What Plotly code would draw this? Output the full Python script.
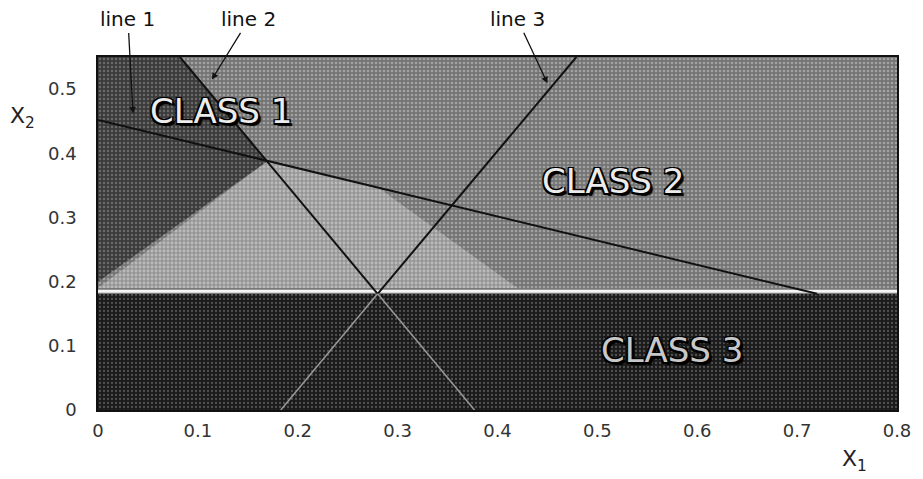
import plotly.graph_objects as go

# ---- data ----
x_ticks = [0, 0.1, 0.2, 0.3, 0.4, 0.5, 0.6, 0.7, 0.8]
x_tick_labels = ["0", "0.1", "0.2", "0.3", "0.4", "0.5", "0.6", "0.7", "0.8"]
y_ticks = [0, 0.1, 0.2, 0.3, 0.4, 0.5]
y_tick_labels = ["0", "0.1", "0.2", "0.3", "0.4", "0.5"]

class3_top = 0.181

line1_x = [0.0, 0.72]
line1_y = [0.452, 0.181]
line2_x = [0.082, 0.28, 0.377]
line2_y = [0.55, 0.181, 0.0]
line3_x = [0.183, 0.28, 0.479]
line3_y = [0.0, 0.181, 0.55]

# shaded regions (polygons)
class1_dark_x = [0.0, 0.0, 0.082, 0.17, 0.0]
class1_dark_y = [0.20, 0.55, 0.55, 0.388, 0.20]
light_band_x = [0.0, 0.17, 0.28, 0.42, 0.0]
light_band_y = [0.19, 0.388, 0.347, 0.19, 0.19]
class3_x = [0.0, 0.8, 0.8, 0.0, 0.0]
class3_y = [0.0, 0.0, class3_top, class3_top, 0.0]
class2_x = [0.0, 0.8, 0.8, 0.0, 0.0]
class2_y = [class3_top, class3_top, 0.55, 0.55, class3_top]

class_labels = ["CLASS 1", "CLASS 2", "CLASS 3"]
class_label_x = [0.123, 0.516, 0.575]
class_label_y = [0.466, 0.357, 0.093]

line_labels = ["line 1", "line 2", "line 3"]
line_tip_x = [0.035, 0.114, 0.450]
line_tip_y = [0.462, 0.515, 0.509]
line_label_ax = [-5, 37, -30]
line_label_ay = [-94, -60, -64]

fig = go.Figure()

def region(xs, ys, bg, fg, sol, size=4):
    fig.add_trace(go.Scatter(
        x=xs, y=ys, mode="lines", fill="toself", line=dict(width=0),
        fillcolor=bg,
        fillpattern=dict(shape=".", bgcolor=bg, fgcolor=fg, size=size, solidity=sol),
        hoverinfo="skip", showlegend=False))

region(class2_x, class2_y, "#747474", "#d0d0d0", 0.35)
region(light_band_x, light_band_y, "#969696", "#e0e0e0", 0.4)
region(class1_dark_x, class1_dark_y, "#3a3a3a", "#9a9a9a", 0.3)
region(class3_x, class3_y, "#1a1a1a", "#8a8a8a", 0.25)

# white strip on top of class 3 band
fig.add_trace(go.Scatter(x=[0, 0.8], y=[class3_top + 0.004, class3_top + 0.004], mode="lines",
                         line=dict(color="#f4f4f4", width=3), hoverinfo="skip", showlegend=False))

# decision lines: dark above the class-3 band, light inside it
fig.add_trace(go.Scatter(x=line1_x, y=line1_y, mode="lines",
                         line=dict(color="#111111", width=2), showlegend=False))
fig.add_trace(go.Scatter(x=line2_x[:2], y=line2_y[:2], mode="lines",
                         line=dict(color="#111111", width=2), showlegend=False))
fig.add_trace(go.Scatter(x=line3_x[1:], y=line3_y[1:], mode="lines",
                         line=dict(color="#111111", width=2), showlegend=False))
fig.add_trace(go.Scatter(x=line2_x[1:], y=line2_y[1:], mode="lines",
                         line=dict(color="#9a9a9a", width=1.5), showlegend=False))
fig.add_trace(go.Scatter(x=line3_x[:2], y=line3_y[:2], mode="lines",
                         line=dict(color="#9a9a9a", width=1.5), showlegend=False))

shadow = ("-1.5px -1.5px 0 #000, 1.5px -1.5px 0 #000, -1.5px 1.5px 0 #000, "
          "1.5px 1.5px 0 #000, 3px 3px 1px #000")
for t, x, y in zip(class_labels, class_label_x, class_label_y):
    fig.add_annotation(x=x, y=y, text=t, showarrow=False,
                       font=dict(family="DejaVu Sans", size=34,
                                 color="#ececec" if t != "CLASS 3" else "#c8c8c8",
                                 shadow=shadow))

for t, x, y, ax, ay in zip(line_labels, line_tip_x, line_tip_y, line_label_ax, line_label_ay):
    fig.add_annotation(x=x, y=y, text=t, showarrow=True, ax=ax, ay=ay,
                       arrowhead=2, arrowsize=1, arrowwidth=1.3, arrowcolor="#111111",
                       font=dict(family="DejaVu Sans", size=20, color="#111111"))

# axis titles
fig.add_annotation(xref="paper", yref="paper", x=-0.095, y=0.83, text="X<sub>2</sub>",
                   xanchor="center", yanchor="middle",
                   showarrow=False, font=dict(family="DejaVu Sans", size=22, color="#222"))
fig.add_annotation(xref="paper", yref="paper", x=0.947, y=-0.142, text="X<sub>1</sub>",
                   xanchor="center", yanchor="middle",
                   showarrow=False, font=dict(family="DejaVu Sans", size=22, color="#222"))

fig.update_xaxes(range=[0, 0.8], tickvals=x_ticks, ticktext=x_tick_labels,
                 showgrid=False, zeroline=False, showline=True, linecolor="#111",
                 linewidth=1.5, mirror=True, ticks="outside", ticklen=4,
                 tickcolor="rgba(0,0,0,0)",
                 tickfont=dict(family="DejaVu Sans", size=18, color="#333"))
fig.update_yaxes(range=[0, 0.55], tickvals=y_ticks, ticktext=y_tick_labels,
                 showgrid=False, zeroline=False, showline=True, linecolor="#111",
                 linewidth=1.5, mirror=True, ticks="outside", ticklen=16,
                 tickcolor="rgba(0,0,0,0)",
                 tickfont=dict(family="DejaVu Sans", size=18, color="#333"))

fig.update_layout(width=923, height=479,
                  margin=dict(l=98, r=18, t=57, b=69),
                  paper_bgcolor="white", plot_bgcolor="white")

fig.write_html("out.html")
